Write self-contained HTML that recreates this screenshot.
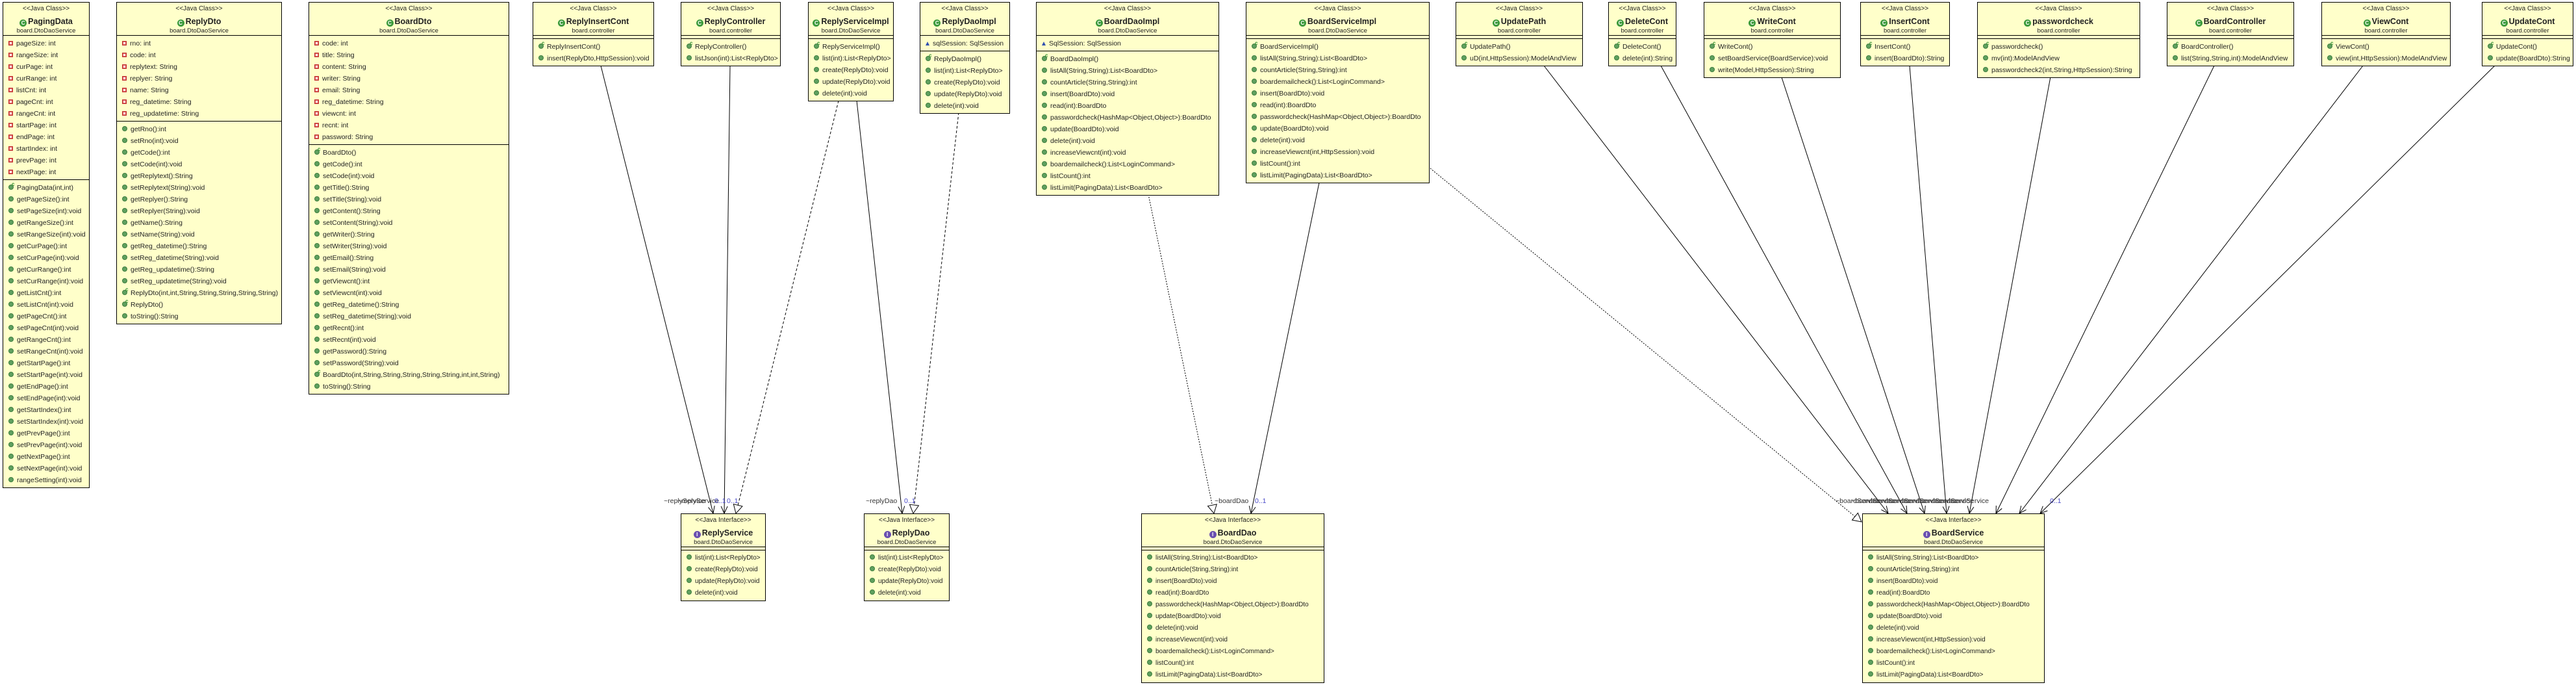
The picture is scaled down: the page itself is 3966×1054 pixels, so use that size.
<!DOCTYPE html>
<html><head><meta charset="utf-8">
<style>
*{box-sizing:border-box;margin:0;padding:0}
body{width:3966px;height:1054px;background:#fff;position:relative;overflow:hidden;font-family:"Liberation Sans",Arial,sans-serif;color:#222}
.b{position:absolute;top:3px;border:1px solid #000;background:#ffffca;z-index:2}
.hd{height:51px;border-bottom:1px solid #000;text-align:center;position:relative}
.st{position:absolute;left:0;right:0;top:4px;font-size:10px;line-height:12px}
.nm{position:absolute;left:0;right:0;top:21px;font-size:12.5px;font-weight:bold;line-height:16px;white-space:nowrap}
.pk{position:absolute;left:0;right:0;top:38px;font-size:9.5px;line-height:12px}
.ci{display:inline-block;width:11px;height:11px;border-radius:50%;background:#3c9a3c;color:#fff;font-size:8px;line-height:11px;text-align:center;vertical-align:-1px;margin-right:2px;font-weight:bold}
.ii{background:#6a4fb0}
.sec{padding:3px 0 2px;border-bottom:1px solid #000}
.sec:last-child{border-bottom:none}
.emp{height:5px;border-bottom:1px solid #000}
.r{height:18px;line-height:18px;font-size:10.5px;white-space:nowrap;padding-left:8px;position:relative}
.r::before{content:"";display:inline-block;width:6px;height:6px;border-radius:50%;background:#5fa05f;border:1px solid #3f7f3f;margin-right:5px;vertical-align:0}
.r.f::before{border-radius:0;background:#fff;border:1px solid #c03030;box-shadow:inset 0 0 0 1px #e06060;width:5px;height:5px}
.r.p::before{border-radius:0;background:none;border:none;width:0;height:0;border-left:3px solid transparent;border-right:3px solid transparent;border-bottom:6px solid #3050b0}
.r.c span.s{position:absolute;left:13px;top:-1px;font-size:8px;line-height:9px;color:#2a8a2a;font-weight:bold}
.in .r{font-size:10px}
svg{position:absolute;left:0;top:0;z-index:1}
.lb{position:absolute;font-size:10.5px;line-height:12px;white-space:nowrap;color:#333;z-index:3}
.q{color:#4848c8}
</style></head><body>

<svg width="3966" height="1054" viewBox="0 0 3966 1054">
<defs>
<marker id="oa" markerWidth="12" markerHeight="12" refX="11" refY="6" orient="auto" markerUnits="userSpaceOnUse"><path d="M0,1 L11,6 L0,11" fill="none" stroke="#000" stroke-width="1"/></marker>
<marker id="tr" markerWidth="16" markerHeight="16" refX="14" refY="8" orient="auto" markerUnits="userSpaceOnUse"><path d="M1,1 L14,8 L1,15 Z" fill="#fff" stroke="#000" stroke-width="1"/></marker>
</defs>
<g stroke="#000" stroke-width="1" fill="none">
<line x1="925" y1="101" x2="1098" y2="790" marker-end="url(#oa)"/>
<line x1="1124" y1="101" x2="1115" y2="790" marker-end="url(#oa)"/>
<line x1="1291" y1="155" x2="1133" y2="790" stroke-dasharray="4,3" marker-end="url(#tr)"/>
<line x1="1319" y1="155" x2="1389" y2="790" marker-end="url(#oa)"/>
<line x1="1476" y1="173" x2="1406" y2="790" stroke-dasharray="4,3" marker-end="url(#tr)"/>
<line x1="1768" y1="299" x2="1869" y2="790" stroke-dasharray="2,2" marker-end="url(#tr)"/>
<line x1="2031" y1="281" x2="1926" y2="790" marker-end="url(#oa)"/>
<line x1="2202" y1="259" x2="2866" y2="803" stroke-dasharray="2,2" marker-end="url(#tr)"/>
<line x1="2377" y1="101" x2="2907" y2="790" marker-end="url(#oa)"/>
<line x1="2557" y1="101" x2="2936" y2="790" marker-end="url(#oa)"/>
<line x1="2743" y1="119" x2="2963" y2="790" marker-end="url(#oa)"/>
<line x1="2940" y1="101" x2="2997" y2="790" marker-end="url(#oa)"/>
<line x1="3157" y1="118" x2="3032" y2="790" marker-end="url(#oa)"/>
<line x1="3409" y1="101" x2="3073" y2="790" marker-end="url(#oa)"/>
<line x1="3638" y1="101" x2="3109" y2="790" marker-end="url(#oa)"/>
<line x1="3841" y1="101" x2="3141" y2="790" marker-end="url(#oa)"/>
</g>
</svg>

<!-- labels -->
<div class="lb" style="left:1022px;top:765px">~replyService</div>
<div class="lb" style="left:1043px;top:765px">~replyService</div>
<div class="lb q" style="left:1100px;top:765px">0..1</div>
<div class="lb q" style="left:1119px;top:765px">0..1</div>
<div class="lb" style="left:1333px;top:765px">~replyDao</div>
<div class="lb q" style="left:1392px;top:765px">0..1</div>
<div class="lb" style="left:1870px;top:765px">~boardDao</div>
<div class="lb q" style="left:1932px;top:765px">0..1</div>
<div class="lb" style="left:2826px;top:765px">~boardService</div>
<div class="lb" style="left:2850px;top:765px">~boardService</div>
<div class="lb" style="left:2874px;top:765px">~boardService</div>
<div class="lb" style="left:2898px;top:765px">~boardService</div>
<div class="lb" style="left:2922px;top:765px">~boardService</div>
<div class="lb" style="left:2946px;top:765px">~boardService</div>
<div class="lb" style="left:2970px;top:765px">~boardService</div>
<div class="lb" style="left:2994px;top:765px">~boardService</div>
<div class="lb q" style="left:3156px;top:765px">0..1</div>

<!-- PagingData -->
<div class="b" style="left:4px;width:134px">
<div class="hd"><div class="st">&lt;&lt;Java Class&gt;&gt;</div><div class="nm"><span class="ci">C</span>PagingData</div><div class="pk">board.DtoDaoService</div></div>
<div class="sec">
<div class="r f">pageSize: int</div><div class="r f">rangeSize: int</div><div class="r f">curPage: int</div><div class="r f">curRange: int</div><div class="r f">listCnt: int</div><div class="r f">pageCnt: int</div><div class="r f">rangeCnt: int</div><div class="r f">startPage: int</div><div class="r f">endPage: int</div><div class="r f">startIndex: int</div><div class="r f">prevPage: int</div><div class="r f">nextPage: int</div>
</div>
<div class="sec">
<div class="r c"><span class="s">c</span>PagingData(int,int)</div>
<div class="r">getPageSize():int</div><div class="r">setPageSize(int):void</div><div class="r">getRangeSize():int</div><div class="r">setRangeSize(int):void</div><div class="r">getCurPage():int</div><div class="r">setCurPage(int):void</div><div class="r">getCurRange():int</div><div class="r">setCurRange(int):void</div><div class="r">getListCnt():int</div><div class="r">setListCnt(int):void</div><div class="r">getPageCnt():int</div><div class="r">setPageCnt(int):void</div><div class="r">getRangeCnt():int</div><div class="r">setRangeCnt(int):void</div><div class="r">getStartPage():int</div><div class="r">setStartPage(int):void</div><div class="r">getEndPage():int</div><div class="r">setEndPage(int):void</div><div class="r">getStartIndex():int</div><div class="r">setStartIndex(int):void</div><div class="r">getPrevPage():int</div><div class="r">setPrevPage(int):void</div><div class="r">getNextPage():int</div><div class="r">setNextPage(int):void</div><div class="r">rangeSetting(int):void</div>
</div></div>

<!-- ReplyDto -->
<div class="b" style="left:179px;width:255px">
<div class="hd"><div class="st">&lt;&lt;Java Class&gt;&gt;</div><div class="nm"><span class="ci">C</span>ReplyDto</div><div class="pk">board.DtoDaoService</div></div>
<div class="sec">
<div class="r f">rno: int</div><div class="r f">code: int</div><div class="r f">replytext: String</div><div class="r f">replyer: String</div><div class="r f">name: String</div><div class="r f">reg_datetime: String</div><div class="r f">reg_updatetime: String</div>
</div>
<div class="sec">
<div class="r">getRno():int</div><div class="r">setRno(int):void</div><div class="r">getCode():int</div><div class="r">setCode(int):void</div><div class="r">getReplytext():String</div><div class="r">setReplytext(String):void</div><div class="r">getReplyer():String</div><div class="r">setReplyer(String):void</div><div class="r">getName():String</div><div class="r">setName(String):void</div><div class="r">getReg_datetime():String</div><div class="r">setReg_datetime(String):void</div><div class="r">getReg_updatetime():String</div><div class="r">setReg_updatetime(String):void</div>
<div class="r c"><span class="s">c</span>ReplyDto(int,int,String,String,String,String,String)</div>
<div class="r c"><span class="s">c</span>ReplyDto()</div>
<div class="r">toString():String</div>
</div></div>

<!-- BoardDto -->
<div class="b" style="left:475px;width:309px">
<div class="hd"><div class="st">&lt;&lt;Java Class&gt;&gt;</div><div class="nm"><span class="ci">C</span>BoardDto</div><div class="pk">board.DtoDaoService</div></div>
<div class="sec">
<div class="r f">code: int</div><div class="r f">title: String</div><div class="r f">content: String</div><div class="r f">writer: String</div><div class="r f">email: String</div><div class="r f">reg_datetime: String</div><div class="r f">viewcnt: int</div><div class="r f">recnt: int</div><div class="r f">password: String</div>
</div>
<div class="sec">
<div class="r c"><span class="s">c</span>BoardDto()</div>
<div class="r">getCode():int</div><div class="r">setCode(int):void</div><div class="r">getTitle():String</div><div class="r">setTitle(String):void</div><div class="r">getContent():String</div><div class="r">setContent(String):void</div><div class="r">getWriter():String</div><div class="r">setWriter(String):void</div><div class="r">getEmail():String</div><div class="r">setEmail(String):void</div><div class="r">getViewcnt():int</div><div class="r">setViewcnt(int):void</div><div class="r">getReg_datetime():String</div><div class="r">setReg_datetime(String):void</div><div class="r">getRecnt():int</div><div class="r">setRecnt(int):void</div><div class="r">getPassword():String</div><div class="r">setPassword(String):void</div>
<div class="r c"><span class="s">c</span>BoardDto(int,String,String,String,String,String,int,int,String)</div>
<div class="r">toString():String</div>
</div></div>

<!-- ReplyInsertCont -->
<div class="b" style="left:820px;width:187px">
<div class="hd"><div class="st">&lt;&lt;Java Class&gt;&gt;</div><div class="nm"><span class="ci">C</span>ReplyInsertCont</div><div class="pk">board.controller</div></div>
<div class="emp"></div>
<div class="sec"><div class="r c"><span class="s">c</span>ReplyInsertCont()</div><div class="r">insert(ReplyDto,HttpSession):void</div></div></div>

<!-- ReplyController -->
<div class="b" style="left:1048px;width:154px">
<div class="hd"><div class="st">&lt;&lt;Java Class&gt;&gt;</div><div class="nm"><span class="ci">C</span>ReplyController</div><div class="pk">board.controller</div></div>
<div class="emp"></div>
<div class="sec"><div class="r c"><span class="s">c</span>ReplyController()</div><div class="r">listJson(int):List&lt;ReplyDto&gt;</div></div></div>

<!-- ReplyServiceImpl -->
<div class="b" style="left:1244px;width:132px">
<div class="hd"><div class="st">&lt;&lt;Java Class&gt;&gt;</div><div class="nm"><span class="ci">C</span>ReplyServiceImpl</div><div class="pk">board.DtoDaoService</div></div>
<div class="emp"></div>
<div class="sec"><div class="r c"><span class="s">c</span>ReplyServiceImpl()</div><div class="r">list(int):List&lt;ReplyDto&gt;</div><div class="r">create(ReplyDto):void</div><div class="r">update(ReplyDto):void</div><div class="r">delete(int):void</div></div></div>

<!-- ReplyDaoImpl -->
<div class="b" style="left:1416px;width:139px">
<div class="hd"><div class="st">&lt;&lt;Java Class&gt;&gt;</div><div class="nm"><span class="ci">C</span>ReplyDaoImpl</div><div class="pk">board.DtoDaoService</div></div>
<div class="sec"><div class="r p">sqlSession: SqlSession</div></div>
<div class="sec"><div class="r c"><span class="s">c</span>ReplyDaoImpl()</div><div class="r">list(int):List&lt;ReplyDto&gt;</div><div class="r">create(ReplyDto):void</div><div class="r">update(ReplyDto):void</div><div class="r">delete(int):void</div></div></div>

<!-- BoardDaoImpl -->
<div class="b" style="left:1595px;width:282px">
<div class="hd"><div class="st">&lt;&lt;Java Class&gt;&gt;</div><div class="nm"><span class="ci">C</span>BoardDaoImpl</div><div class="pk">board.DtoDaoService</div></div>
<div class="sec"><div class="r p">SqlSession: SqlSession</div></div>
<div class="sec"><div class="r c"><span class="s">c</span>BoardDaoImpl()</div><div class="r">listAll(String,String):List&lt;BoardDto&gt;</div><div class="r">countArticle(String,String):int</div><div class="r">insert(BoardDto):void</div><div class="r">read(int):BoardDto</div><div class="r">passwordcheck(HashMap&lt;Object,Object&gt;):BoardDto</div><div class="r">update(BoardDto):void</div><div class="r">delete(int):void</div><div class="r">increaseViewcnt(int):void</div><div class="r">boardemailcheck():List&lt;LoginCommand&gt;</div><div class="r">listCount():int</div><div class="r">listLimit(PagingData):List&lt;BoardDto&gt;</div></div></div>

<!-- BoardServiceImpl -->
<div class="b" style="left:1918px;width:283px">
<div class="hd"><div class="st">&lt;&lt;Java Class&gt;&gt;</div><div class="nm"><span class="ci">C</span>BoardServiceImpl</div><div class="pk">board.DtoDaoService</div></div>
<div class="emp"></div>
<div class="sec"><div class="r c"><span class="s">c</span>BoardServiceImpl()</div><div class="r">listAll(String,String):List&lt;BoardDto&gt;</div><div class="r">countArticle(String,String):int</div><div class="r">boardemailcheck():List&lt;LoginCommand&gt;</div><div class="r">insert(BoardDto):void</div><div class="r">read(int):BoardDto</div><div class="r">passwordcheck(HashMap&lt;Object,Object&gt;):BoardDto</div><div class="r">update(BoardDto):void</div><div class="r">delete(int):void</div><div class="r">increaseViewcnt(int,HttpSession):void</div><div class="r">listCount():int</div><div class="r">listLimit(PagingData):List&lt;BoardDto&gt;</div></div></div>

<!-- UpdatePath -->
<div class="b" style="left:2241px;width:196px">
<div class="hd"><div class="st">&lt;&lt;Java Class&gt;&gt;</div><div class="nm"><span class="ci">C</span>UpdatePath</div><div class="pk">board.controller</div></div>
<div class="emp"></div>
<div class="sec"><div class="r c"><span class="s">c</span>UpdatePath()</div><div class="r">uD(int,HttpSession):ModelAndView</div></div></div>

<!-- DeleteCont -->
<div class="b" style="left:2476px;width:105px">
<div class="hd"><div class="st">&lt;&lt;Java Class&gt;&gt;</div><div class="nm"><span class="ci">C</span>DeleteCont</div><div class="pk">board.controller</div></div>
<div class="emp"></div>
<div class="sec"><div class="r c"><span class="s">c</span>DeleteCont()</div><div class="r">delete(int):String</div></div></div>

<!-- WriteCont -->
<div class="b" style="left:2623px;width:211px">
<div class="hd"><div class="st">&lt;&lt;Java Class&gt;&gt;</div><div class="nm"><span class="ci">C</span>WriteCont</div><div class="pk">board.controller</div></div>
<div class="emp"></div>
<div class="sec"><div class="r c"><span class="s">c</span>WriteCont()</div><div class="r">setBoardService(BoardService):void</div><div class="r">write(Model,HttpSession):String</div></div></div>

<!-- InsertCont -->
<div class="b" style="left:2864px;width:138px">
<div class="hd"><div class="st">&lt;&lt;Java Class&gt;&gt;</div><div class="nm"><span class="ci">C</span>InsertCont</div><div class="pk">board.controller</div></div>
<div class="emp"></div>
<div class="sec"><div class="r c"><span class="s">c</span>InsertCont()</div><div class="r">insert(BoardDto):String</div></div></div>

<!-- passwordcheck -->
<div class="b" style="left:3044px;width:251px">
<div class="hd"><div class="st">&lt;&lt;Java Class&gt;&gt;</div><div class="nm"><span class="ci">C</span>passwordcheck</div><div class="pk">board.controller</div></div>
<div class="emp"></div>
<div class="sec"><div class="r c"><span class="s">c</span>passwordcheck()</div><div class="r">mv(int):ModelAndView</div><div class="r">passwordcheck2(int,String,HttpSession):String</div></div></div>

<!-- BoardController -->
<div class="b" style="left:3336px;width:196px">
<div class="hd"><div class="st">&lt;&lt;Java Class&gt;&gt;</div><div class="nm"><span class="ci">C</span>BoardController</div><div class="pk">board.controller</div></div>
<div class="emp"></div>
<div class="sec"><div class="r c"><span class="s">c</span>BoardController()</div><div class="r">list(String,String,int):ModelAndView</div></div></div>

<!-- ViewCont -->
<div class="b" style="left:3574px;width:199px">
<div class="hd"><div class="st">&lt;&lt;Java Class&gt;&gt;</div><div class="nm"><span class="ci">C</span>ViewCont</div><div class="pk">board.controller</div></div>
<div class="emp"></div>
<div class="sec"><div class="r c"><span class="s">c</span>ViewCont()</div><div class="r">view(int,HttpSession):ModelAndView</div></div></div>

<!-- UpdateCont -->
<div class="b" style="left:3821px;width:141px">
<div class="hd"><div class="st">&lt;&lt;Java Class&gt;&gt;</div><div class="nm"><span class="ci">C</span>UpdateCont</div><div class="pk">board.controller</div></div>
<div class="emp"></div>
<div class="sec"><div class="r c"><span class="s">c</span>UpdateCont()</div><div class="r">update(BoardDto):String</div></div></div>

<!-- Interfaces -->
<div class="b in" style="left:1048px;top:790px;width:131px">
<div class="hd"><div class="st">&lt;&lt;Java Interface&gt;&gt;</div><div class="nm"><span class="ci ii">I</span>ReplyService</div><div class="pk">board.DtoDaoService</div></div>
<div class="emp"></div>
<div class="sec"><div class="r">list(int):List&lt;ReplyDto&gt;</div><div class="r">create(ReplyDto):void</div><div class="r">update(ReplyDto):void</div><div class="r">delete(int):void</div></div></div>

<div class="b in" style="left:1330px;top:790px;width:132px">
<div class="hd"><div class="st">&lt;&lt;Java Interface&gt;&gt;</div><div class="nm"><span class="ci ii">I</span>ReplyDao</div><div class="pk">board.DtoDaoService</div></div>
<div class="emp"></div>
<div class="sec"><div class="r">list(int):List&lt;ReplyDto&gt;</div><div class="r">create(ReplyDto):void</div><div class="r">update(ReplyDto):void</div><div class="r">delete(int):void</div></div></div>

<div class="b in" style="left:1757px;top:790px;width:282px">
<div class="hd"><div class="st">&lt;&lt;Java Interface&gt;&gt;</div><div class="nm"><span class="ci ii">I</span>BoardDao</div><div class="pk">board.DtoDaoService</div></div>
<div class="emp"></div>
<div class="sec"><div class="r">listAll(String,String):List&lt;BoardDto&gt;</div><div class="r">countArticle(String,String):int</div><div class="r">insert(BoardDto):void</div><div class="r">read(int):BoardDto</div><div class="r">passwordcheck(HashMap&lt;Object,Object&gt;):BoardDto</div><div class="r">update(BoardDto):void</div><div class="r">delete(int):void</div><div class="r">increaseViewcnt(int):void</div><div class="r">boardemailcheck():List&lt;LoginCommand&gt;</div><div class="r">listCount():int</div><div class="r">listLimit(PagingData):List&lt;BoardDto&gt;</div></div></div>

<div class="b in" style="left:2867px;top:790px;width:281px">
<div class="hd"><div class="st">&lt;&lt;Java Interface&gt;&gt;</div><div class="nm"><span class="ci ii">I</span>BoardService</div><div class="pk">board.DtoDaoService</div></div>
<div class="emp"></div>
<div class="sec"><div class="r">listAll(String,String):List&lt;BoardDto&gt;</div><div class="r">countArticle(String,String):int</div><div class="r">insert(BoardDto):void</div><div class="r">read(int):BoardDto</div><div class="r">passwordcheck(HashMap&lt;Object,Object&gt;):BoardDto</div><div class="r">update(BoardDto):void</div><div class="r">delete(int):void</div><div class="r">increaseViewcnt(int,HttpSession):void</div><div class="r">boardemailcheck():List&lt;LoginCommand&gt;</div><div class="r">listCount():int</div><div class="r">listLimit(PagingData):List&lt;BoardDto&gt;</div></div></div>

</body></html>
